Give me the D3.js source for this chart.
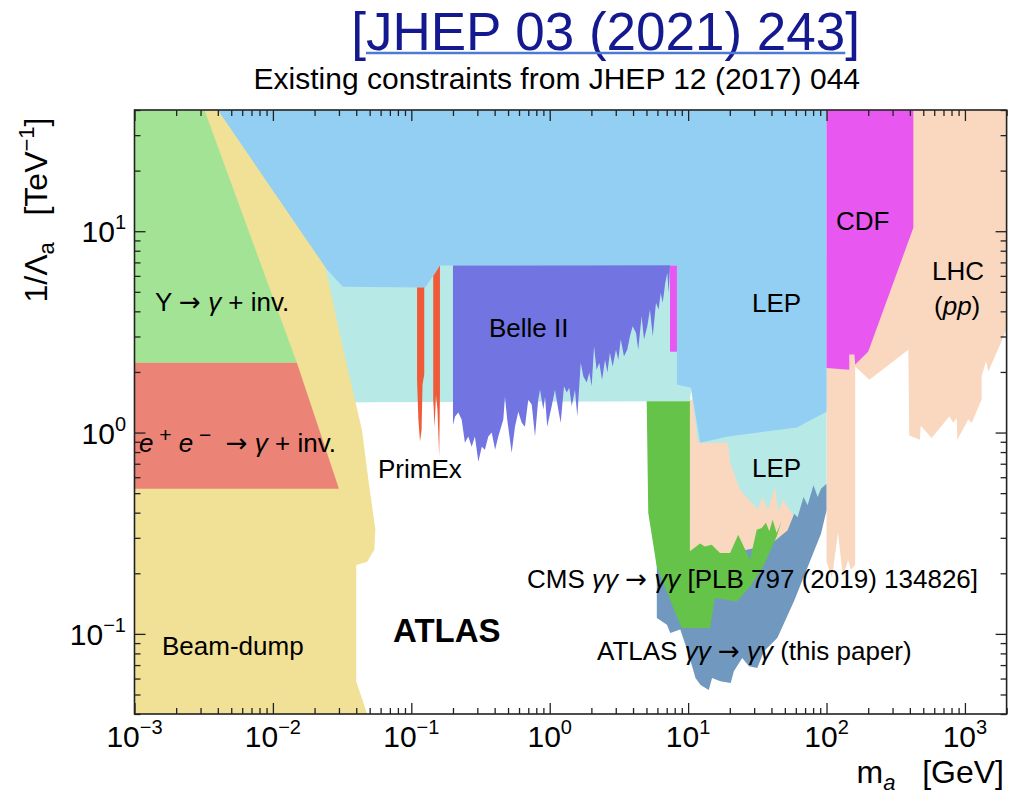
<!DOCTYPE html>
<html>
<head>
<meta charset="utf-8">
<script src="https://cdn.jsdelivr.net/npm/d3@7"></script>
<style>
body { margin: 0; background: #fff; }
text { font-family: "Liberation Sans", Arial, Helvetica, sans-serif; white-space: pre; }
</style>
</head>
<body>
<svg width="1010" height="795"></svg>
<script>
// excluded regions, points are [m_a in GeV, 1/Lambda_a in TeV^-1]
var beamDump = [[0.001,0.04],[0.048,0.04],[0.040,0.058],[0.040,0.22],[0.048,0.228],[0.054,0.262],[0.055,0.33],[0.049,0.58],[0.044,1.03],[0.032,2.64],[0.024,6.6],[0.004,40],[0.001,40]];
var upsilonInv = [[0.001,40],[0.0032,40],[0.0149,2.22],[0.001,2.22]];
var eeInv = [[0.001,2.22],[0.0149,2.22],[0.030,0.526],[0.001,0.526]];
var lepUpper = [[0.0035,40],[100,40],[100,1.27],[61,1.06],[19.4,0.955],[12.2,0.89],[10.5,1.67],[8.3,1.73],[8.3,6.75],[0.161,6.75],[0.126,5.25],[0.032,5.3],[0.0238,6.6]];
var lepLower = [[0.018,7.5],[100,7.5],[100,0.56],[75.9,0.348],[61.2,0.348],[57.3,0.391],[48.5,0.464],[44.7,0.405],[42.5,0.538],[37.8,0.414],[34.2,0.48],[32,0.414],[23.7,0.52],[20.1,0.708],[19.4,0.891],[11.8,0.891],[10.5,1.63],[10.3,1.43],[0.018,1.41]];
var primEx1 = [[0.110,5.25],[0.124,5.25],[0.124,1.94],[0.1205,1.73],[0.1186,1.03],[0.1156,0.90],[0.1125,1.16],[0.110,1.83]];
var primEx2 = [[0.144,6.0],[0.161,6.75],[0.161,1.54],[0.159,0.76],[0.1545,1.30],[0.1507,1.54],[0.1473,1.06],[0.144,1.46]];
var belle2 = [[0.2,6.75],[0.2,1.09],[0.207,1.20],[0.2185,1.256],[0.231,1.16],[0.244,0.891],[0.258,0.955],[0.273,0.851],[0.288,0.955],[0.305,0.717],[0.323,0.851],[0.340,0.822],[0.360,0.955],[0.381,1.00],[0.403,0.822],[0.425,0.955],[0.462,1.16],[0.475,1.51],[0.493,1.16],[0.531,0.794],[0.561,1.07],[0.593,1.27],[0.628,1.12],[0.662,1.07],[0.700,1.46],[0.741,1.38],[0.783,0.955],[0.826,1.46],[0.851,1.63],[0.899,1.30],[0.925,1.51],[0.959,1.07],[1.033,1.35],[1.091,1.63],[1.153,1.30],[1.200,1.12],[1.268,1.70],[1.327,1.58],[1.385,1.67],[1.442,1.35],[1.523,1.63],[1.582,1.20],[1.675,2.22],[1.750,1.90],[1.851,1.77],[1.932,1.985],[2.01,1.70],[2.09,2.68],[2.18,2.05],[2.28,2.22],[2.39,1.83],[2.51,2.30],[2.61,1.985],[2.72,2.49],[2.85,2.13],[3.01,2.58],[3.13,2.30],[3.26,2.90],[3.44,2.39],[3.63,2.58],[3.80,3.01],[3.97,3.37],[4.20,3.13],[4.36,2.58],[4.61,3.78],[4.80,2.90],[5.07,3.37],[5.30,4.08],[5.55,3.01],[5.86,4.41],[6.12,4.08],[6.34,4.94],[6.55,4.41],[6.84,5.54],[7.07,6.21],[7.24,4.94],[7.40,6.78]];
var cdfStrip = [[7.4,6.75],[8.3,6.75],[8.3,2.52],[7.4,2.52]];
var lhcLow = [[10.0,1.46],[64.3,1.46],[64.3,0.369],[54.5,0.294],[10.3,0.186]];
var lhcHigh = [[100,40],[2500,40],[2500,4.6],[1475,2.01],[1420,2.26],[1320,1.90],[1320,1.46],[1120,1.12],[1057,1.16],[881,0.92],[872,1.18],[824,1.12],[771,1.20],[575,0.94],[479,1.08],[473,0.92],[396,0.966],[390,2.58],[204,1.83],[161,2.13],[161,0.22],[150,0.208],[143,0.233],[131.5,0.19],[121,0.318],[109.5,0.19],[100,0.228]];
var cdf = [[100,40],[424,40],[424,10.4],[200,2.52],[161,2.18],[159,2.44],[146,2.44],[146,2.05],[100,2.09]];
var cms = [[5.02,1.43],[10.3,1.43],[10.3,0.257],[12.2,0.281],[13.2,0.272],[14.8,0.277],[17.0,0.252],[20.1,0.252],[23.0,0.311],[28.0,0.233],[31.3,0.329],[34.0,0.336],[36.5,0.356],[38.6,0.323],[40.8,0.369],[43.6,0.317],[47.4,0.362],[43.6,0.305],[34.9,0.216],[28.0,0.172],[22.4,0.145],[15.6,0.151],[14.4,0.107],[8.99,0.107],[7.40,0.148],[5.93,0.216],[5.15,0.40]];
var atlas = [[5.94,0.240],[5.94,0.120],[7.03,0.111],[7.43,0.101],[8.77,0.105],[10.1,0.0789],[11.3,0.0603],[12.3,0.0558],[14.1,0.0527],[14.9,0.0603],[17.1,0.0581],[20.3,0.0570],[21.4,0.0652],[24.6,0.0759],[27.5,0.0690],[31.6,0.0677],[35.3,0.0820],[44.2,0.0957],[58.4,0.146],[73.0,0.214],[91.2,0.314],[100,0.41],[100,0.557],[91.2,0.526],[86.3,0.478],[80.5,0.547],[73.0,0.435],[68.2,0.478],[61.8,0.380],[58.4,0.395],[52.2,0.326],[39.1,0.277],[12.2,0.233],[6.81,0.235]];

var xTickExps = [-3, -2, -1, 0, 1, 2, 3];
var yTickExps = [-1, 0, 1];

var width = 1010, height = 795;
var pL = 134.5, pR = 1006.6, pT = 110, pB = 714;

var svg = d3.select("svg");
var x = d3.scaleLog().domain([1e-3, 2e3]).range([pL, pR]);
var y = d3.scaleLog().domain([0.04, 40]).range([pB, pT]);

svg.append("clipPath").attr("id", "plot")
  .append("rect").attr("x", pL).attr("y", pT).attr("width", pR - pL).attr("height", pB - pT);

// draw order matters: later regions sit on top
var layers = [
  [lhcLow, "#fad8bf"],
  [lhcHigh, "#fad8bf"],
  [lepLower, "#b7e9e7"],
  [lepUpper, "#93cff2"],
  [beamDump, "#f0e196"],
  [upsilonInv, "#a3e395"],
  [eeInv, "#ec8377"],
  [primEx1, "#ef5a38"],
  [primEx2, "#ef5a38"],
  [belle2, "#7174e1"],
  [cdfStrip, "#e858f1"],
  [cdf, "#e858f1"],
  [atlas, "#7199c0"],
  [cms, "#66c34a"]
];

var line = d3.line().x(function(d) { return x(d[0]); }).y(function(d) { return y(d[1]); });

svg.append("g").attr("clip-path", "url(#plot)")
  .selectAll("path").data(layers).enter()
  .append("path")
  .attr("d", function(d) { return line(d[0]) + "Z"; })
  .attr("fill", function(d) { return d[1]; });

// ticks, all pointing inwards
var xMajor = xTickExps.map(function(e) { return Math.pow(10, e); });
var yMajor = yTickExps.map(function(e) { return Math.pow(10, e); });
var xMinor = [], yMinor = [];
for (var e = -3; e <= 3; e++) for (var k = 2; k <= 9; k++) { var v = k * Math.pow(10, e); if (v <= 2e3) xMinor.push(v); }
for (var e = -2; e <= 1; e++) for (var k = 2; k <= 9; k++) { var v = k * Math.pow(10, e); if (v >= 0.04 && v <= 40) yMinor.push(v); }

function ticks(axis, vals, len, tr) {
  svg.append("g").attr("transform", tr)
    .call(axis.tickValues(vals).tickSize(-len).tickFormat(""))
    .call(function(g) {
      g.select(".domain").remove();
      g.selectAll("line").attr("stroke", "#222").attr("stroke-width", 1.3);
    });
}
ticks(d3.axisBottom(x), xMajor, 11, "translate(0," + pB + ")");
ticks(d3.axisBottom(x), xMinor, 6, "translate(0," + pB + ")");
ticks(d3.axisTop(x), xMajor, 11, "translate(0," + pT + ")");
ticks(d3.axisTop(x), xMinor, 6, "translate(0," + pT + ")");
ticks(d3.axisLeft(y), yMajor, 11, "translate(" + pL + ",0)");
ticks(d3.axisLeft(y), yMinor, 6, "translate(" + pL + ",0)");
ticks(d3.axisRight(y), yMajor, 11, "translate(" + pR + ",0)");
ticks(d3.axisRight(y), yMinor, 6, "translate(" + pR + ",0)");

svg.append("rect").attr("x", pL).attr("y", pT).attr("width", pR - pL).attr("height", pB - pT)
  .attr("fill", "none").attr("stroke", "#222").attr("stroke-width", 1.6);

function sup(e) { return e < 0 ? "\u2212" + (-e) : "" + e; }

var xl = svg.append("g").selectAll("text").data(xTickExps).enter().append("text")
  .attr("x", function(d) { return x(Math.pow(10, d)); }).attr("y", 747)
  .attr("text-anchor", "middle").attr("font-size", 30);
xl.append("tspan").text("10");
xl.append("tspan").attr("font-size", 20).attr("dy", -13).text(function(d) { return sup(d); });

var yl = svg.append("g").selectAll("text").data(yTickExps).enter().append("text")
  .attr("x", 126).attr("y", function(d) { return y(Math.pow(10, d)) + 11; })
  .attr("text-anchor", "end").attr("font-size", 30);
yl.append("tspan").text("10");
yl.append("tspan").attr("font-size", 20).attr("dy", -13).text(function(d) { return sup(d); });

// axis titles
var xt = svg.append("text").attr("x", 1004).attr("y", 783).attr("text-anchor", "end").attr("font-size", 32);
xt.append("tspan").text("m");
xt.append("tspan").attr("font-size", 22).attr("dy", 7).attr("font-style", "italic").text("a");
xt.append("tspan").attr("dy", -7).text("   [GeV]");

var yt = svg.append("text").attr("transform", "translate(47,210) rotate(-90)").attr("text-anchor", "middle").attr("font-size", 32);
yt.append("tspan").text("1/\u039b");
yt.append("tspan").attr("font-size", 22).attr("dy", 7).text("a");
yt.append("tspan").attr("dy", -7).text("   [TeV");
yt.append("tspan").attr("font-size", 22).attr("dy", -13).text("\u22121");
yt.append("tspan").attr("dy", 13).text("]");

// header
var title = svg.append("text").attr("x", 860).attr("y", 50).attr("text-anchor", "end")
  .attr("font-size", 53).attr("fill", "#14198f").text("[JHEP 03 (2021) 243]");
var tnode = title.node();
var n = tnode.getNumberOfChars();
var u0 = tnode.getStartPositionOfChar(1).x, u1 = tnode.getEndPositionOfChar(n - 2).x;
svg.append("line").attr("x1", u0).attr("x2", u1).attr("y1", 53).attr("y2", 53)
  .attr("stroke", "#4d7bd4").attr("stroke-width", 2.5);
svg.append("text").attr("x", 860).attr("y", 89).attr("text-anchor", "end").attr("font-size", 30)
  .text("Existing constraints from JHEP 12 (2017) 044");

// region labels; part kinds: i = italic, sup = superscript, arr = arrow glyph
function label(px, py, parts, size, weight) {
  size = size || 26;
  var t = svg.append("text").attr("x", px).attr("y", py).attr("font-size", size)
    .attr("font-weight", weight || "normal");
  var shift = 0;
  parts.forEach(function(p) {
    var s = t.append("tspan").text(p[0]);
    var want = p[1] === "sup" ? -10 : 0;
    if (want !== shift) { s.attr("dy", want - shift); shift = want; }
    if (p[1] === "i") s.attr("font-style", "italic");
    if (p[1] === "sup") s.attr("font-size", 21);
    if (p[1] === "arr") s.attr("font-family", "DejaVu Sans").attr("font-size", size);
  });
}
label(155, 311, [["\u03a5 "], ["\u2192", "arr"], [" "], ["\u03b3", "i"], [" + inv."]]);
label(139, 452, [["e", "i"], [" +", "sup"], [" e", "i"], [" \u2212", "sup"], ["  "], ["\u2192", "arr"], [" "], ["\u03b3", "i"], [" + inv."]]);
label(378, 478, [["PrimEx"]]);
label(489, 337, [["Belle II"]]);
label(752, 312, [["LEP"]]);
label(752, 477, [["LEP"]]);
label(836, 230, [["CDF"]]);
label(932, 280, [["LHC"]]);
label(934, 315, [["("], ["pp", "i"], [")"]]);
label(162, 655, [["Beam-dump"]]);
label(393, 642, [["ATLAS"]], 33, "bold");
label(527, 588, [["CMS "], ["\u03b3\u03b3", "i"], [" "], ["\u2192", "arr"], [" "], ["\u03b3\u03b3", "i"], [" [PLB 797 (2019) 134826]"]]);
label(597, 660, [["ATLAS "], ["\u03b3\u03b3", "i"], [" "], ["\u2192", "arr"], [" "], ["\u03b3\u03b3", "i"], [" (this paper)"]]);
</script>
</body>
</html>
